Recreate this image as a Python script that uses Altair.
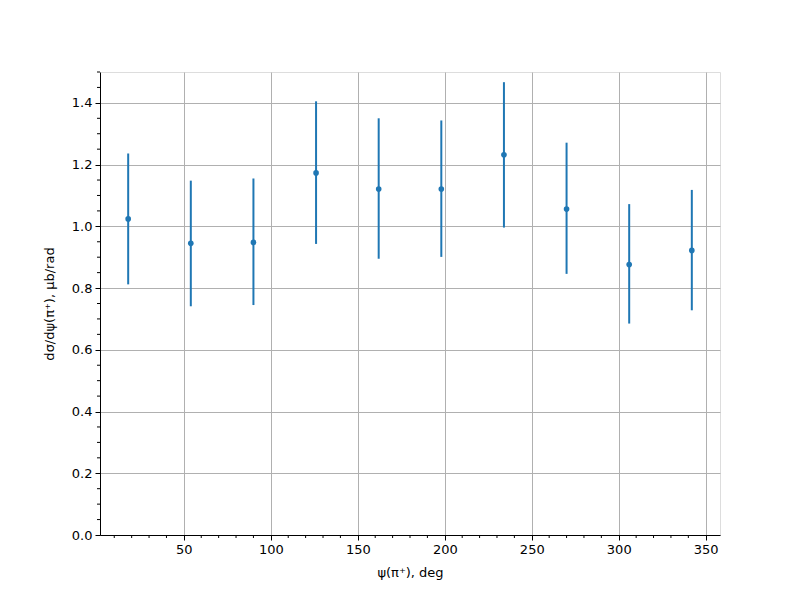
import altair as alt
import pandas as pd

# data
psi = [18, 54, 90, 126, 162, 198, 234, 270, 306, 342]
xs = [1.024, 0.945, 0.948, 1.173, 1.121, 1.121, 1.232, 1.056, 0.876, 0.922]
lo = [0.812, 0.741, 0.745, 0.943, 0.895, 0.901, 0.996, 0.846, 0.685, 0.728]
hi = [1.236, 1.148, 1.155, 1.405, 1.350, 1.343, 1.467, 1.271, 1.072, 1.118]

x_ticks = [50, 100, 150, 200, 250, 300, 350]
y_ticks = [0.0, 0.2, 0.4, 0.6, 0.8, 1.0, 1.2, 1.4]
x_minor = [v for v in range(10, 360, 10) if v % 50 != 0]
y_minor = [round(0.05 * i, 2) for i in range(1, 31) if i % 4 != 0]

df = pd.DataFrame({"psi": psi, "xs": xs, "lo": lo, "hi": hi})
dfxm = pd.DataFrame({"v": x_minor})
dfym = pd.DataFrame({"v": y_minor})

W, H = 620, 463
C = "#1f77b4"
FONT = "DejaVu Sans"

xscale = alt.Scale(domain=[1.8, 358.2], nice=False, zero=False)
yscale = alt.Scale(domain=[0, 1.5], nice=False)

xaxis = alt.Axis(values=x_ticks, format="d", title="ψ(π⁺), deg",
                 grid=True, gridColor="#b0b0b0", gridWidth=1,
                 domainColor="black", tickColor="black", tickSize=5,
                 labelColor="black", labelFontSize=13, labelFont=FONT, labelPadding=3,
                 titleFont=FONT, titleFontSize=13, titleFontWeight="normal",
                 titleColor="black", titlePadding=10)
yaxis = alt.Axis(values=y_ticks, format=".1f", title="dσ/dψ(π⁺), μb/rad",
                 grid=True, gridColor="#b0b0b0", gridWidth=1,
                 domainColor="black", tickColor="black", tickSize=5,
                 labelColor="black", labelFontSize=13, labelFont=FONT, labelPadding=3,
                 titleFont=FONT, titleFontSize=13, titleFontWeight="normal",
                 titleColor="black", titlePadding=15)

base = alt.Chart(df)
bars = base.mark_rule(color=C, strokeWidth=2).encode(
    x=alt.X("psi:Q", scale=xscale, axis=xaxis),
    y=alt.Y("lo:Q", scale=yscale, axis=yaxis),
    y2="hi:Q",
)
pts = base.mark_circle(color=C, opacity=1, size=32).encode(
    x=alt.X("psi:Q", scale=xscale),
    y=alt.Y("xs:Q", scale=yscale),
)
xminor = alt.Chart(dfxm).mark_rule(color="black", strokeWidth=1).encode(
    x=alt.X("v:Q", scale=xscale),
    y=alt.value(H), y2=alt.value(H + 3),
)
yminor = alt.Chart(dfym).mark_rule(color="black", strokeWidth=1).encode(
    y=alt.Y("v:Q", scale=yscale),
    x=alt.value(0), x2=alt.value(-3),
)

chart = alt.layer(bars, pts, xminor, yminor).properties(
    width=W, height=H,
    autosize=alt.AutoSizeParams(type="none"),
    padding={"left": 92, "top": 64, "right": 72, "bottom": 57},
).configure_view(stroke="black", strokeWidth=1).configure(background="white")

chart.save("out.html", embed_options={"renderer": "svg", "actions": False})
